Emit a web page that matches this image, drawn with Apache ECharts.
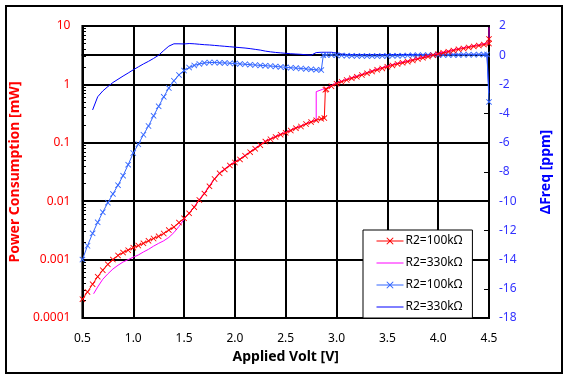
<!DOCTYPE html>
<html><head><meta charset="utf-8">
<script src="https://cdn.jsdelivr.net/npm/echarts@6/dist/echarts.min.js"></script>
<style>html,body{margin:0;padding:0;background:#fff}#c{width:567px;height:378px;position:absolute;left:0;top:0}#f{position:absolute;left:5px;top:5px;width:554px;height:365px;border:2px solid #000;pointer-events:none}</style>
</head><body><div id="c"></div><div id="f"></div>
<script>
// ---- data ----
const xTicks = [0.5,1.0,1.5,2.0,2.5,3.0,3.5,4.0,4.5];
const leftTickLabels = ['0.0001','0.001','0.01','0.1','1','10'];
const rightTickLabels = [-18,-16,-14,-12,-10,-8,-6,-4,-2,0,2];
const legendNames = ['R2=100kΩ','R2=330kΩ','R2=100kΩ ','R2=330kΩ '];

// Power consumption, R2=100kΩ (red, mW)
const redVolt = [0.50,0.55,0.60,0.65,0.70,0.75,0.80,0.85,0.90,0.95,1.00,1.05,1.10,1.15,1.20,1.25,1.30,1.35,1.40,1.45,1.50,1.55,1.60,1.65,1.70,1.75,1.80,1.85,1.90,1.95,2.00,2.05,2.10,2.15,2.20,2.25,2.30,2.35,2.40,2.45,2.50,2.55,2.60,2.65,2.70,2.75,2.80,2.85,2.88,2.89,2.90,2.95,3.00,3.05,3.10,3.15,3.20,3.25,3.30,3.35,3.40,3.45,3.50,3.55,3.60,3.65,3.70,3.75,3.80,3.85,3.90,3.95,4.00,4.05,4.10,4.15,4.20,4.25,4.30,4.35,4.40,4.45,4.50,4.50];
const redPower = [0.00021,0.00028,0.00038,0.00051,0.00066,0.00083,0.0010,0.00118,0.00132,0.00145,0.0016,0.00174,0.0019,0.0021,0.0023,0.0025,0.0028,0.0032,0.0036,0.0043,0.0051,0.0062,0.0079,0.0105,0.0135,0.018,0.024,0.030,0.035,0.041,0.046,0.052,0.060,0.069,0.079,0.091,0.105,0.115,0.126,0.138,0.148,0.162,0.178,0.19,0.21,0.226,0.243,0.257,0.265,0.81,0.83,0.93,1.03,1.11,1.19,1.27,1.35,1.45,1.55,1.66,1.78,1.88,2.0,2.11,2.24,2.34,2.45,2.57,2.72,2.85,2.99,3.16,3.3,3.47,3.63,3.8,3.98,4.12,4.3,4.47,4.62,4.8,5.0,6.0];

// Power consumption, R2=330kΩ (magenta, mW)
const magVolt = [0.61,0.65,0.70,0.75,0.80,0.85,0.90,0.95,1.00,1.05,1.10,1.15,1.20,1.25,1.30,1.35,1.40,1.45,1.50,1.55,1.60,1.65,1.70,1.75,1.80,1.85,1.90,1.95,2.00,2.05,2.10,2.15,2.20,2.25,2.30,2.35,2.40,2.45,2.50,2.55,2.60,2.65,2.70,2.75,2.80,2.80,2.86,2.90,2.95,3.00,3.10,3.20,3.30,3.40,3.50,3.60,3.70,3.80,3.90,4.00,4.10,4.20,4.30,4.40,4.50,4.50];
const magPower = [0.00026,0.00034,0.00046,0.00057,0.00069,0.00080,0.00091,0.0010,0.0011,0.0012,0.00135,0.0015,0.0017,0.0019,0.0021,0.0024,0.0029,0.0037,0.0049,0.0063,0.0080,0.0107,0.0138,0.0184,0.0245,0.0306,0.0357,0.042,0.047,0.053,0.061,0.070,0.081,0.093,0.107,0.117,0.129,0.141,0.151,0.165,0.182,0.194,0.214,0.231,0.245,0.75,0.82,0.86,0.96,1.06,1.23,1.39,1.60,1.83,2.06,2.31,2.52,2.80,3.08,3.40,3.74,4.10,4.43,4.76,5.2,9.5];

// ΔFreq, R2=100kΩ (blue with markers, ppm)
const bxVolt = [0.50,0.55,0.60,0.65,0.70,0.75,0.80,0.85,0.90,0.95,1.00,1.05,1.10,1.15,1.20,1.25,1.30,1.35,1.40,1.45,1.50,1.55,1.60,1.65,1.70,1.75,1.80,1.85,1.90,1.95,2.00,2.05,2.10,2.15,2.20,2.25,2.30,2.35,2.40,2.45,2.50,2.55,2.60,2.65,2.70,2.75,2.80,2.85,2.87,2.90,2.95,3.00,3.05,3.10,3.15,3.20,3.25,3.30,3.35,3.40,3.45,3.50,3.55,3.60,3.65,3.70,3.75,3.80,3.85,3.90,3.95,4.00,4.05,4.10,4.15,4.20,4.25,4.30,4.35,4.40,4.45,4.48,4.50];
const bxFreq = [-14.0,-13.05,-12.2,-11.45,-10.75,-10.1,-9.5,-8.9,-8.25,-7.5,-6.7,-6.1,-5.45,-4.85,-4.15,-3.5,-2.85,-2.25,-1.75,-1.35,-1.05,-0.85,-0.70,-0.60,-0.53,-0.50,-0.50,-0.52,-0.53,-0.55,-0.57,-0.60,-0.62,-0.65,-0.67,-0.70,-0.72,-0.74,-0.77,-0.80,-0.83,-0.86,-0.88,-0.91,-0.94,-0.97,-1.00,-1.02,0.00,0.02,0.02,0.00,-0.02,-0.03,-0.04,-0.05,-0.05,-0.06,-0.06,-0.06,-0.05,-0.05,-0.04,-0.04,-0.03,-0.02,-0.01,0.00,0.00,0.01,0.01,0.01,0.02,0.02,0.02,0.02,0.03,0.03,0.03,0.04,0.04,0.05,-3.2];

// ΔFreq, R2=330kΩ (blue thin line, ppm)
const blVolt = [0.60,0.65,0.70,0.75,0.80,0.85,0.90,0.95,1.00,1.05,1.10,1.15,1.20,1.25,1.30,1.35,1.40,1.45,1.50,1.55,1.60,1.65,1.70,1.75,1.80,1.85,1.90,1.95,2.00,2.05,2.10,2.15,2.20,2.25,2.30,2.35,2.40,2.45,2.50,2.55,2.60,2.65,2.70,2.75,2.80,2.85,2.90,2.95,3.00,3.05,3.10,3.20,3.30,3.40,3.50,3.60,3.70,3.80,3.90,4.00,4.10,4.20,4.30,4.40,4.45,4.48,4.50];
const blFreq = [-3.75,-2.85,-2.45,-2.15,-1.87,-1.65,-1.43,-1.22,-1.00,-0.80,-0.60,-0.42,-0.22,0.00,0.32,0.62,0.78,0.78,0.77,0.80,0.78,0.75,0.72,0.70,0.67,0.64,0.61,0.58,0.55,0.52,0.49,0.45,0.40,0.35,0.28,0.23,0.19,0.16,0.13,0.10,0.08,0.06,0.03,0.00,0.18,0.20,0.20,0.20,0.15,0.08,0.05,0.04,0.04,0.04,0.04,0.05,0.05,0.05,0.05,0.05,0.06,0.06,0.06,0.06,0.06,0.08,-2.6];

// log-axis minor tick positions (2..9 per decade)
const minorTicks = [2e-4,3e-4,4e-4,5e-4,6e-4,7e-4,8e-4,9e-4,2e-3,3e-3,4e-3,5e-3,6e-3,7e-3,8e-3,9e-3,0.02,0.03,0.04,0.05,0.06,0.07,0.08,0.09,0.2,0.3,0.4,0.5,0.6,0.7,0.8,0.9,2,3,4,5,6,7,8,9];

// ---- chart ----
const pairs = (xs, ys) => xs.map((x, i) => [x, ys[i]]);
const X = 'path://M0,1L1,0L5,4L9,0L10,1L6,5L10,9L9,10L5,6L1,10L0,9L4,5Z';
const FONT = 'Noto Sans';
const chart = echarts.init(document.getElementById('c'), null, {renderer: 'canvas'});
chart.setOption({
  animation: false,
  backgroundColor: '#fff',
  textStyle: {fontFamily: FONT},
  grid: {left: 77, right: 78, top: 26, bottom: 60, show: true, borderColor: '#000', borderWidth: 2, backgroundColor: 'transparent'},
  legend: {
    orient: 'vertical', left: 363, top: 230,
    data: [
      {name: legendNames[0]},
      {name: legendNames[1], itemStyle: {opacity: 0}},
      {name: legendNames[2]},
      {name: legendNames[3], itemStyle: {opacity: 0}}
    ],
    backgroundColor: '#fff', borderColor: '#000', borderWidth: 1,
    padding: [5, 7, 5, 13], itemGap: 10, itemWidth: 27, itemHeight: 9,
    lineStyle: {width: 1},
    textStyle: {fontFamily: FONT, fontSize: 12, color: '#000', padding: [0, 0, 0, -3]}
  },
  xAxis: {
    type: 'value', min: 0.5, max: 4.5, interval: 0.5,
    name: 'Applied Volt [V]', nameLocation: 'middle', nameGap: 30,
    nameTextStyle: {fontFamily: FONT, fontSize: 14, fontWeight: 'bold', color: '#000'},
    axisLine: {show: true, lineStyle: {color: '#000', width: 2}},
    axisTick: {show: false},
    axisLabel: {fontFamily: FONT, fontSize: 12, color: '#000', margin: 15, formatter: v => v.toFixed(1)},
    splitLine: {show: true, lineStyle: {color: '#000', width: 2}}
  },
  yAxis: [{
    type: 'log', logBase: 10, min: 0.0001, max: 10, position: 'left',
    name: 'Power Consumption [mW]', nameLocation: 'middle', nameGap: 46, nameRotate: 90,
    nameTextStyle: {fontFamily: FONT, fontSize: 14, fontWeight: 'bold', color: '#ff0000'},
    axisLine: {show: true, lineStyle: {color: '#000', width: 2}},
    axisTick: {show: false},
    axisLabel: {fontFamily: FONT, fontSize: 12, color: '#ff0000', margin: 12,
      formatter: v => { const e = Math.round(Math.log10(v)); return leftTickLabels[e + 4]; }},
    splitLine: {show: true, lineStyle: {color: '#000', width: 2}}
  }, {
    type: 'value', min: -18, max: 2, interval: 2, position: 'right',
    name: 'ΔFreq [ppm]', nameLocation: 'middle', nameGap: 50, nameRotate: 90,
    nameTextStyle: {fontFamily: FONT, fontSize: 14, fontWeight: 'bold', color: '#0000ff'},
    axisLine: {show: true, lineStyle: {color: '#000', width: 2}},
    axisTick: {show: true, inside: true, length: 5, lineStyle: {color: '#000', width: 1}},
    axisLabel: {fontFamily: FONT, fontSize: 12, color: '#3333ff', margin: 10,
      formatter: v => String(rightTickLabels[rightTickLabels.indexOf(v)])},
    splitLine: {show: false}
  }],
  series: [{
    name: legendNames[0], type: 'line', xAxisIndex: 0, yAxisIndex: 0, z: 5,
    data: pairs(redVolt, redPower),
    symbol: X, symbolSize: 6, showAllSymbol: true,
    lineStyle: {color: '#ff0000', width: 1}, itemStyle: {color: '#ff0000'},
    markLine: {silent: true, symbol: 'none', label: {show: false}, animation: false,
      lineStyle: {color: '#000', width: 1, type: 'solid'},
      data: minorTicks.map(v => [{coord: [0.5, v]}, {coord: [0.535, v]}])}
  }, {
    name: legendNames[1], type: 'line', xAxisIndex: 0, yAxisIndex: 0, z: 4,
    data: pairs(magVolt, magPower), symbol: 'none',
    lineStyle: {color: '#ff00ff', width: 1}, itemStyle: {color: '#ff00ff'}
  }, {
    name: legendNames[2], type: 'line', xAxisIndex: 0, yAxisIndex: 1, z: 3,
    data: pairs(bxVolt, bxFreq),
    symbol: X, symbolSize: 6, showAllSymbol: true,
    lineStyle: {color: '#3366ff', width: 1}, itemStyle: {color: '#3366ff'}
  }, {
    name: legendNames[3], type: 'line', xAxisIndex: 0, yAxisIndex: 1, z: 2,
    data: pairs(blVolt, blFreq), symbol: 'none',
    lineStyle: {color: '#0000ff', width: 1}, itemStyle: {color: '#0000ff'}
  }]
});
</script>
</body></html>
